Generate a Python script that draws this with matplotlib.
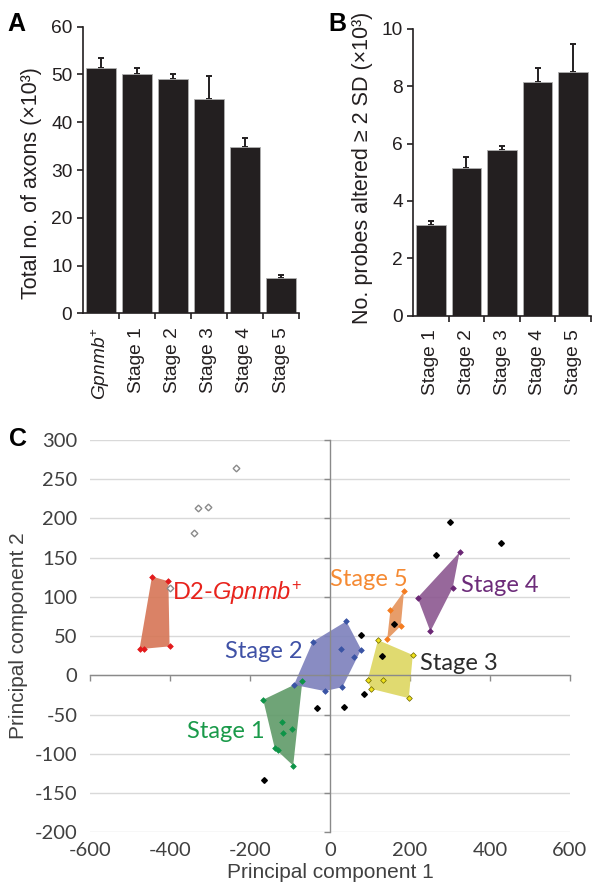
import numpy as np
import matplotlib
matplotlib.use("Agg")
import matplotlib.pyplot as plt
from matplotlib.patches import Polygon

plt.rcParams['font.family'] = ['Liberation Sans', 'DejaVu Sans']
plt.rcParams['mathtext.fontset'] = 'custom'
plt.rcParams['mathtext.rm'] = 'Liberation Sans'
plt.rcParams['mathtext.it'] = 'Liberation Sans:italic'

# ---------------- data ----------------
axon_labels = [r'$\mathit{Gpnmb}^{+}$', 'Stage 1', 'Stage 2', 'Stage 3', 'Stage 4', 'Stage 5']
axon_means = [51.4, 50.0, 49.1, 44.8, 34.8, 7.3]
axon_err = [2.1, 1.4, 1.1, 4.9, 1.8, 0.7]

probe_labels = ['Stage 1', 'Stage 2', 'Stage 3', 'Stage 4', 'Stage 5']
probe_means = [3.16, 5.16, 5.77, 8.15, 8.49]
probe_err = [0.15, 0.39, 0.15, 0.48, 0.98]

d2_x = [-445, -404, -401, -464, -476]
d2_y = [126, 120, 37, 34, 34]
s1_x = [-167, -69, -92, -130, -138, -120, -117, -95]
s1_y = [-31, -7, -115, -95, -93, -60, -73, -68]
s2_x = [41, 78, 61, 31, -13, -90, -43, 28]
s2_y = [69, 33, 23, -15, -20, -12, 43, 34]
s3_x = [120, 207, 197, 102, 94, 132]
s3_y = [45, 26, -29, -17, -6, -6]
s4_x = [324, 307, 251, 219]
s4_y = [157, 112, 56, 99]
s5_x = [185, 151, 143, 177]
s5_y = [107, 83, 46, 63]
other_x = [300, 428, 266, 159, 78, 131, -33, 36, 85, -166]
other_y = [195, 169, 154, 66, 51, 25, -42, -40, -24, -133]
open_x = [-236, -329, -306, -341, -399]
open_y = [264, 213, 214, 181, 111]

group_names = ['D2-$\\mathit{Gpnmb}^{+}$', 'Stage 1', 'Stage 2', 'Stage 3', 'Stage 4', 'Stage 5']

# ---------------- helpers ----------------
def hull(xs, ys):
    pts = sorted(set(zip(xs, ys)))
    def cross(o, a, b):
        return (a[0]-o[0])*(b[1]-o[1]) - (a[1]-o[1])*(b[0]-o[0])
    lower, upper = [], []
    for p in pts:
        while len(lower) >= 2 and cross(lower[-2], lower[-1], p) <= 0:
            lower.pop()
        lower.append(p)
    for p in reversed(pts):
        while len(upper) >= 2 and cross(upper[-2], upper[-1], p) <= 0:
            upper.pop()
        upper.append(p)
    return lower[:-1] + upper[:-1]

BAR = '#231f20'

fig = plt.figure(figsize=(5.92, 8.88), dpi=100)

def style_bar_axes(ax, n, labels):
    for s in ['top', 'right']:
        ax.spines[s].set_visible(False)
    for s in ['left', 'bottom']:
        ax.spines[s].set_linewidth(1.2)
        ax.spines[s].set_color(BAR)
    ax.set_xlim(-0.5, n - 0.5)
    ax.set_xticks(np.arange(n))
    ax.set_xticklabels(labels, rotation=90, va='top', ha='center')
    ax.set_xticks(np.arange(n) + 0.5, minor=True)
    ax.tick_params(axis='x', which='major', length=0, pad=10, labelsize=13.8, colors=BAR)
    ax.tick_params(axis='x', which='minor', length=4, width=1.2, direction='out', color=BAR)
    ax.tick_params(axis='y', length=4, width=1.2, direction='out', labelsize=13.8, colors=BAR)

# ---------------- Panel A ----------------
axA = fig.add_axes([0.1397, 0.6472, 0.3655, 0.3227])
xa = np.arange(len(axon_means))
axA.bar(xa, axon_means, width=0.82, color=BAR, edgecolor='#b0b0b0', linewidth=0.6, zorder=2)
axA.errorbar(xa, axon_means, yerr=[np.zeros(len(axon_err)), axon_err], fmt='none',
             ecolor=BAR, elinewidth=1.4, capsize=2.5, capthick=1.4, zorder=1)
axA.set_ylim(0, 60)
axA.set_yticks(np.arange(0, 61, 10))
style_bar_axes(axA, len(axon_means), axon_labels)
axA.set_ylabel('Total no. of axons (×10³)', fontsize=15.5, color=BAR)
axA.yaxis.set_label_coords(-0.19, 0.456)

# ---------------- Panel B ----------------
axB = fig.add_axes([0.698, 0.6445, 0.300, 0.3229])
xb = np.arange(len(probe_means))
axB.bar(xb, probe_means, width=0.83, color=BAR, edgecolor='#b0b0b0', linewidth=0.6, zorder=2)
axB.errorbar(xb, probe_means, yerr=[np.zeros(len(probe_err)), probe_err], fmt='none',
             ecolor=BAR, elinewidth=1.4, capsize=2.5, capthick=1.4, zorder=1)
axB.set_ylim(0, 10)
axB.set_yticks(np.arange(0, 11, 2))
style_bar_axes(axB, len(probe_means), probe_labels)
axB.set_ylabel('No. probes altered ≥ 2 SD (×10³)', fontsize=15.5, color=BAR)
axB.yaxis.set_label_coords(-0.225, 0.517)

# ---------------- Panel C ----------------
axC = fig.add_axes([0.152, 0.0627, 0.8108, 0.4418])
axC.set_xlim(-600, 600)
axC.set_ylim(-200, 300)
for s in ['top', 'right']:
    axC.spines[s].set_visible(False)
axC.spines['left'].set_position(('data', 0))
axC.spines['bottom'].set_position(('data', 0))
for s in ['left', 'bottom']:
    axC.spines[s].set_color('#8a8a8a')
    axC.spines[s].set_linewidth(1.0)
xt = np.arange(-600, 601, 200)
yt = np.arange(-200, 301, 50)
axC.set_xticks(xt)
axC.set_yticks(yt)
axC.tick_params(direction='out', length=4, width=1.0, color='#8a8a8a',
                labelleft=False, labelbottom=False)
axC.yaxis.grid(True, color='#d9d9d9', linewidth=1.0)
axC.set_axisbelow(True)

secx = axC.secondary_xaxis('bottom')
secx.set_xticks(xt)
secx.set_xticklabels([str(v) for v in xt])
secx.tick_params(length=0, pad=7, labelsize=14.5, labelcolor='#404040', labelfontfamily='Lato')
secx.spines['bottom'].set_visible(False)
secx.set_xlabel('Principal component 1', fontsize=15, color='#404040', labelpad=3)

secy = axC.secondary_yaxis('left')
secy.set_yticks(yt)
secy.set_yticklabels([str(v) for v in yt])
secy.tick_params(length=0, pad=9, labelsize=14.5, labelcolor='#404040', labelfontfamily='Lato')
secy.spines['left'].set_visible(False)
secy.set_ylabel('Principal component 2', fontsize=15, color='#404040', labelpad=5)

groups = [
    (d2_x, d2_y, '#d67555', '#e31a1c', '#e31a1c'),
    (s1_x, s1_y, '#5f9a68', '#0e9448', '#0e9448'),
    (s2_x, s2_y, '#7c80bc', '#3a54a4', '#3a54a4'),
    (s3_x, s3_y, '#ddd660', '#f0e21a', '#6b6400'),
    (s4_x, s4_y, '#8c5790', '#6b2775', '#6b2775'),
    (s5_x, s5_y, '#e5925a', '#f47c20', '#f47c20'),
]
for gx, gy, fill, mface, medge in groups:
    poly = Polygon(hull(gx, gy), closed=True, facecolor=fill, edgecolor='none', alpha=0.9, zorder=2)
    axC.add_patch(poly)
    axC.plot(gx, gy, linestyle='none', marker='D', markersize=2.9, markerfacecolor=mface,
             markeredgecolor=medge, markeredgewidth=0.5, zorder=4)

axC.plot(other_x, other_y, linestyle='none', marker='D', markersize=2.9, color='black', zorder=4)
axC.plot(open_x, open_y, linestyle='none', marker='D', markersize=3.4, markerfacecolor='white',
         markeredgecolor='#8a8a8a', markeredgewidth=1.0, zorder=4)

label_pos_x = [-395, -358, -262, 225, 327, 0]
label_pos_y = [105, -72, 30, 15, 115, 122]
label_colors = ['#e8221b', '#1a9a4a', '#3f51a6', '#2b2b2b', '#6d2c7a', '#f58a33']
for name, lx, ly, c in zip(group_names, label_pos_x, label_pos_y, label_colors):
    axC.text(lx, ly, name, color=c, fontsize=17, family='Lato', ha='left', va='center', zorder=5)

# panel letters
fig.text(7 / 592, 1 - 31 / 888, 'A', fontsize=18, fontweight='bold', va='baseline', ha='left')
fig.text(328 / 592, 1 - 31 / 888, 'B', fontsize=18, fontweight='bold', va='baseline', ha='left')
fig.text(9 / 592, 1 - 446 / 888, 'C', fontsize=18, fontweight='bold', va='baseline', ha='left')

fig.savefig('out.png', dpi=100)
